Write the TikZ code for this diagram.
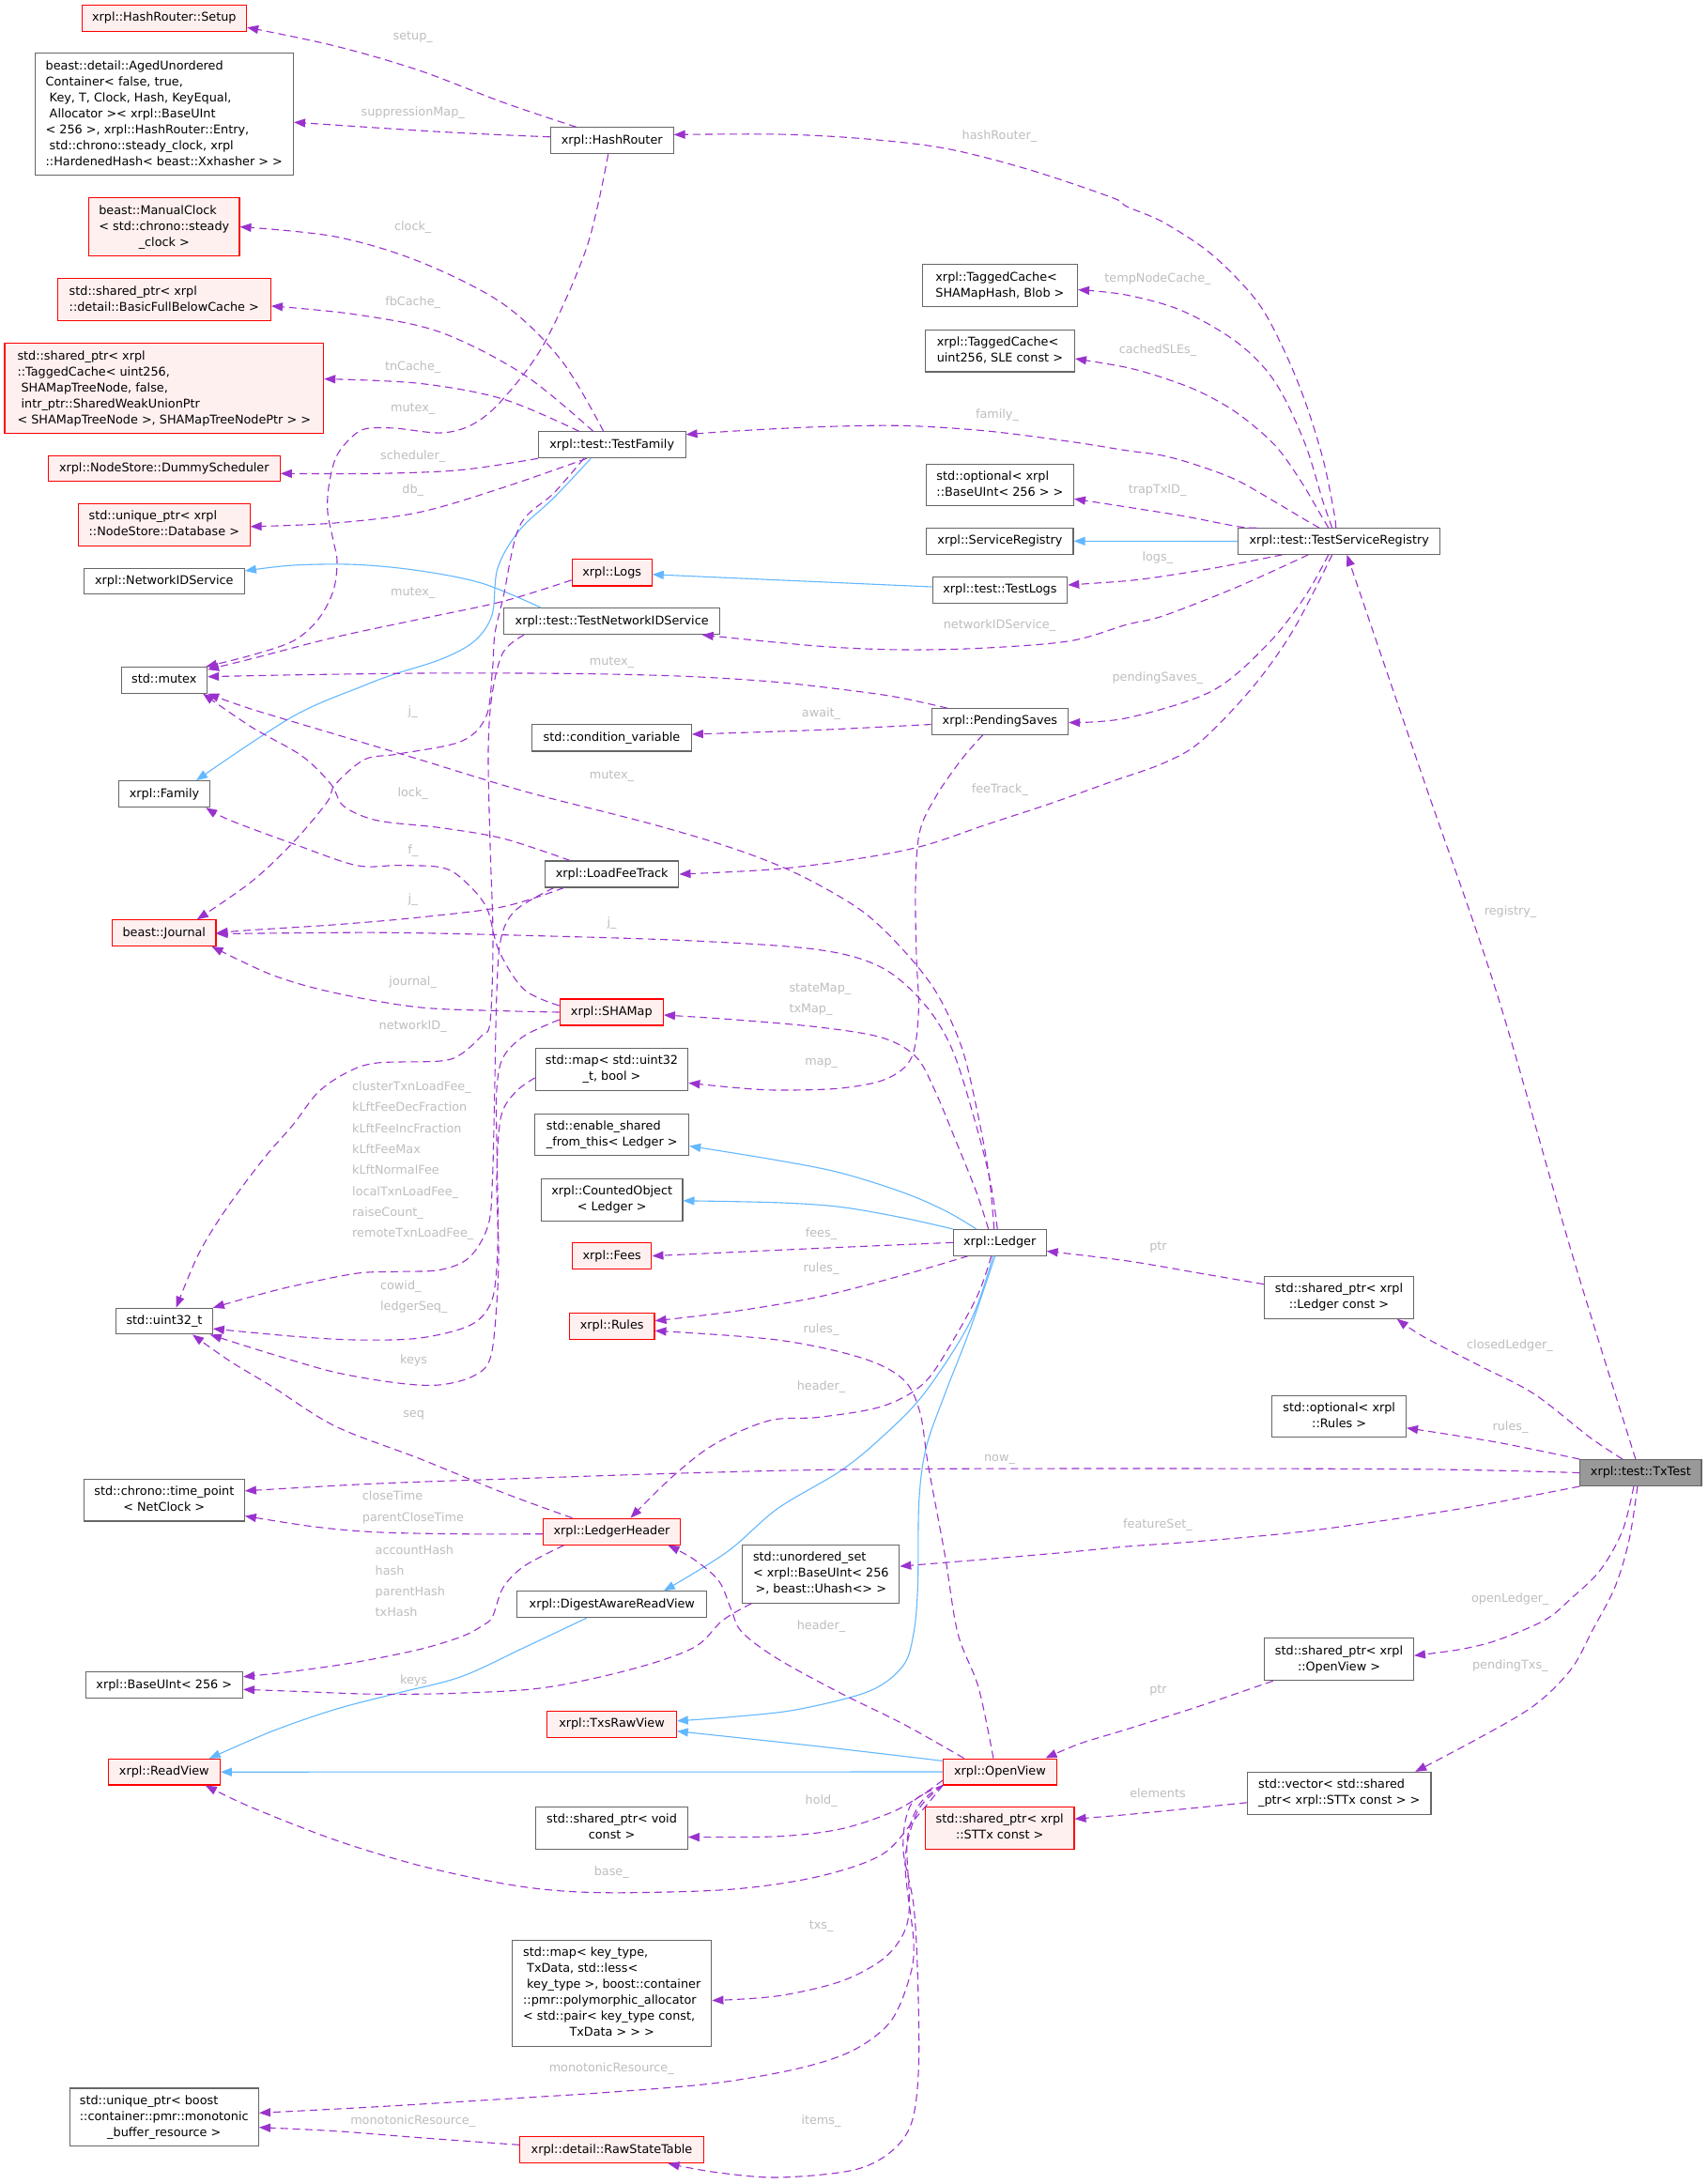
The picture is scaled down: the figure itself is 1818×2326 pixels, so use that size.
\documentclass[tikz,border=0pt]{standalone}
\usepackage{fontspec}
\setmainfont{DejaVu Sans}
\usetikzlibrary{arrows.meta}
\definecolor{purp}{HTML}{9A32CD}
\definecolor{blu}{HTML}{63B8FF}
\definecolor{gbord}{HTML}{666666}
\definecolor{rbord}{HTML}{FF0000}
\definecolor{rfill}{HTML}{FFF0F0}
\definecolor{labc}{HTML}{BEBEBE}
\definecolor{selfill}{HTML}{999999}
\newcommand\lastc[1]{\multicolumn{1}{@{}c@{}}{#1}}
\newcommand\bx[1]{\begin{tabular}{@{}l@{}}#1\end{tabular}}
\newcommand\conn[2]{\draw[#1] plot[smooth, tension=0.55] coordinates {#2};}
\newcommand\elab[3]{\node[lbl] (#1) at (#2) {#3};}
\newcommand\elabw[3]{\node[lbl,anchor=west] (#1) at (#2) {#3};}
\begin{document}
\begin{tikzpicture}[x=1pt,y=-1pt, font=\fontsize{12.8}{17}\selectfont,
 box/.style={draw=gbord, fill=white, line width=1.1pt, inner xsep=0pt, inner ysep=5.3pt},
 rbox/.style={box, draw=rbord, fill=rfill},
 sbox/.style={box, fill=selfill},
 lbl/.style={text=labc, inner sep=0pt, text height=9.7pt, text depth=2.7pt},
 mem/.style={draw=purp, line width=1.1pt, dash pattern=on 8pt off 5pt, -{Triangle[length=12pt,width=9pt]}},
 inh/.style={draw=blu, line width=1.1pt, -{Triangle[length=12pt,width=9pt]}}]
\fill[white] (0,0) rectangle (1818,2326);
\useasboundingbox (0,0) rectangle (1818,2326);

% ---------- left column ----------
\node[rbox, minimum width=175.5pt, minimum height=27.8pt] (setup) at (174.8,19.2) {\bx{xrpl::HashRouter::Setup}};
\node[box, minimum width=275.4pt, minimum height=129.8pt] (aged) at (174.8,121.7) {\bx{beast::detail::AgedUnordered\\Container< false, true,\\\ Key, T, Clock, Hash, KeyEqual,\\\ Allocator >< xrpl::BaseUInt\\< 256 >, xrpl::HashRouter::Entry,\\\ std::chrono::steady\_clock, xrpl\\\lastc{::HardenedHash< beast::Xxhasher > >}}};
\node[rbox, minimum width=160.3pt, minimum height=61.7pt] (clock) at (174.8,241.6) {\bx{beast::ManualClock\\< std::chrono::steady\\\lastc{\_clock >}}};
\node[rbox, minimum width=227.2pt, minimum height=44.8pt] (fbc) at (174.8,319.3) {\bx{std::shared\_ptr< xrpl\\\lastc{::detail::BasicFullBelowCache >}}};
\node[rbox, minimum width=339.7pt, minimum height=95.5pt] (tnc) at (174.8,413.6) {\bx{std::shared\_ptr< xrpl\\::TaggedCache< uint256,\\\ SHAMapTreeNode, false,\\\ intr\_ptr::SharedWeakUnionPtr\\\lastc{< SHAMapTreeNode >, SHAMapTreeNodePtr > >}}};
\node[rbox, minimum width=246.9pt, minimum height=27.8pt] (dummy) at (174.8,499) {\bx{xrpl::NodeStore::DummyScheduler}};
\node[rbox, minimum width=182.6pt, minimum height=45.2pt] (db) at (174.8,558.8) {\bx{std::unique\_ptr< xrpl\\\lastc{::NodeStore::Database >}}};
\node[box, minimum width=171pt, minimum height=27.5pt] (nids) at (174.8,619) {\bx{xrpl::NetworkIDService}};
\node[box, minimum width=91.5pt, minimum height=27.5pt] (mutex) at (174.8,724.4) {\bx{std::mutex}};
\node[box, minimum width=97.3pt, minimum height=28pt] (family) at (175,845.7) {\bx{xrpl::Family}};
\node[rbox, minimum width=110.3pt, minimum height=27.6pt] (journal) at (174.8,993.6) {\bx{beast::Journal}};
\node[box, minimum width=102.6pt, minimum height=27.6pt] (uint32) at (175,1407.1) {\bx{std::uint32\_t}};
\node[box, minimum width=171pt, minimum height=44.4pt] (timepoint) at (174.8,1597.7) {\bx{std::chrono::time\_point\\\lastc{< NetClock >}}};
\node[box, minimum width=167.4pt, minimum height=28.2pt] (baseuint) at (174.8,1794.8) {\bx{xrpl::BaseUInt< 256 >}};
\node[rbox, minimum width=119.2pt, minimum height=27.5pt] (readview) at (174.8,1887.2) {\bx{xrpl::ReadView}};
\node[box, minimum width=201.3pt, minimum height=61.8pt] (monotonic) at (174.8,2254.9) {\bx{std::unique\_ptr< boost\\::container::pmr::monotonic\\\lastc{\_buffer\_resource >}}};

% ---------- middle column ----------
\node[box, minimum width=130.8pt, minimum height=27.9pt] (hashrouter) at (651.7,149.8) {\bx{xrpl::HashRouter}};
\node[box, minimum width=156.7pt, minimum height=27.9pt] (testfamily) at (651.7,473.8) {\bx{xrpl::test::TestFamily}};
\node[rbox, minimum width=85pt, minimum height=28.3pt] (logs) at (651.7,609.8) {\bx{xrpl::Logs}};
\node[box, minimum width=230pt, minimum height=28pt] (tnids) at (651.7,661.6) {\bx{xrpl::test::TestNetworkIDService}};
\node[box, minimum width=169.6pt, minimum height=28.4pt] (condvar) at (651.5,785.8) {\bx{std::condition\_variable}};
\node[box, minimum width=142.4pt, minimum height=28pt] (lft) at (651.7,931) {\bx{xrpl::LoadFeeTrack}};
\node[rbox, minimum width=110.2pt, minimum height=28pt] (shamap) at (651.3,1078) {\bx{xrpl::SHAMap}};
\node[box, minimum width=162.5pt, minimum height=44.2pt] (mapu32) at (651.5,1138.9) {\bx{std::map< std::uint32\\\lastc{\_t, bool >}}};
\node[box, minimum width=163.8pt, minimum height=44.4pt] (esft) at (651.7,1208.5) {\bx{std::enable\_shared\\\lastc{\_from\_this< Ledger >}}};
\node[box, minimum width=150.5pt, minimum height=44.4pt] (counted) at (651.7,1277.8) {\bx{xrpl::CountedObject\\\lastc{< Ledger >}}};
\node[rbox, minimum width=84.4pt, minimum height=27.9pt] (fees) at (651.7,1337.6) {\bx{xrpl::Fees}};
\node[rbox, minimum width=90.6pt, minimum height=27.2pt] (rules) at (651.7,1412.3) {\bx{xrpl::Rules}};
\node[rbox, minimum width=145.6pt, minimum height=28pt] (lheader) at (651.5,1631.2) {\bx{xrpl::LedgerHeader}};
\node[box, minimum width=201.9pt, minimum height=27.6pt] (darv) at (651.8,1708.7) {\bx{xrpl::DigestAwareReadView}};
\node[rbox, minimum width=137.5pt, minimum height=27.8pt] (txsraw) at (651.5,1836.3) {\bx{xrpl::TxsRawView}};
\node[box, minimum width=161.6pt, minimum height=44.5pt] (spvoid) at (651.5,1947) {\bx{std::shared\_ptr< void\\\lastc{const >}}};
\node[box, minimum width=212.3pt, minimum height=112.5pt] (mapkt) at (651.7,2123) {\bx{std::map< key\_type,\\\ TxData, std::less<\\\ key\_type >, boost::container\\::pmr::polymorphic\_allocator\\< std::pair< key\_type const,\\\lastc{TxData > > >}}};
\node[rbox, minimum width=195.7pt, minimum height=27.8pt] (rst) at (651.5,2289.7) {\bx{xrpl::detail::RawStateTable}};
\node[box, minimum width=166.9pt, minimum height=60.9pt] (unordered) at (874.3,1676.4) {\bx{std::unordered\_set\\< xrpl::BaseUInt< 256\\\lastc{>, beast::Uhash<> >}}};

% ---------- right-middle column ----------
\node[box, minimum width=165.2pt, minimum height=44.8pt] (tcshamap) at (1064.9,304.2) {\bx{xrpl::TaggedCache<\\\lastc{SHAMapHash, Blob >}}};
\node[box, minimum width=159pt, minimum height=44.4pt] (tcsle) at (1064.9,373.7) {\bx{xrpl::TaggedCache<\\\lastc{uint256, SLE const >}}};
\node[box, minimum width=157.1pt, minimum height=44.8pt] (optbase) at (1064.9,516.5) {\bx{std::optional< xrpl\\\lastc{::BaseUInt< 256 > >}}};
\node[box, minimum width=156.2pt, minimum height=27.2pt] (servreg) at (1064.9,576.3) {\bx{xrpl::ServiceRegistry}};
\node[box, minimum width=143.7pt, minimum height=27.6pt] (testlogs) at (1064.9,628.5) {\bx{xrpl::test::TestLogs}};
\node[box, minimum width=145.5pt, minimum height=27.5pt] (pending) at (1064.9,768.5) {\bx{xrpl::PendingSaves}};
\node[box, minimum width=98.7pt, minimum height=27.5pt] (ledger) at (1064.7,1323.3) {\bx{xrpl::Ledger}};
\node[rbox, minimum width=120.6pt, minimum height=27.9pt] (openview) at (1064.9,1887) {\bx{xrpl::OpenView}};
\node[rbox, minimum width=158.5pt, minimum height=44.5pt] (spsttx) at (1064.7,1947) {\bx{std::shared\_ptr< xrpl\\\lastc{::STTx const >}}};

% ---------- right column ----------
\node[box, minimum width=215.2pt, minimum height=27pt] (tsr) at (1426.2,576.5) {\bx{xrpl::test::TestServiceRegistry}};
\node[box, minimum width=158.8pt, minimum height=44.8pt] (spledger) at (1426,1381.7) {\bx{std::shared\_ptr< xrpl\\\lastc{::Ledger const >}}};
\node[box, minimum width=142.6pt, minimum height=44.7pt] (optrules) at (1426.2,1508.4) {\bx{std::optional< xrpl\\\lastc{::Rules >}}};
\node[box, minimum width=158.8pt, minimum height=44.9pt] (spov) at (1426,1767.2) {\bx{std::shared\_ptr< xrpl\\\lastc{::OpenView >}}};
\node[box, minimum width=195.5pt, minimum height=44.8pt] (vector) at (1426.2,1909.8) {\bx{std::vector< std::shared\\\lastc{\_ptr< xrpl::STTx const > >}}};
\node[sbox, minimum width=129.2pt, minimum height=27.9pt] (txtest) at (1747.4,1568.5) {\bx{xrpl::test::TxTest}};

% ---------- inheritance edges ----------
\conn{inh}{([xshift=-22.5pt]testfamily.south) (590,530) (553,565) (530,605) (524,655) (505,683) (470,702) (420,718) (388,730) (312,763) ([xshift=34pt]family.north)}
\conn{inh}{([yshift=3.5pt]testlogs.west) ([yshift=-2pt]logs.east)}
\conn{inh}{([xshift=-75.8pt]tnids.north) (513.4,621.2) (446.4,607.8) (379.4,601.3) (312.5,602) ([yshift=11pt]nids.east)}
\conn{inh}{(tsr.west) (servreg.east)}
\conn{inh}{([xshift=-24.8pt]ledger.north) (1006.4,1289.3) (961.8,1270) (894.8,1249) (827.8,1235.7) ([yshift=-12pt]esft.east)}
\conn{inh}{(ledger.north west) (961.8,1297) (894.8,1285.4) (827.8,1280.8) ([yshift=-1pt]counted.east)}
\conn{inh}{([xshift=-7pt]ledger.south) (1033.2,1407.9) (984,1484.4) (939.4,1530.4) (894.8,1566.7) (827.8,1606.9) (774.3,1652.8) ([xshift=55pt]darv.north)}
\conn{inh}{([xshift=-5pt]ledger.south) (1033.2,1415.5) (1006.4,1484.4) (986.3,1541.8) (978.7,1599.2) (977.4,1690) (973,1739.3) (961.8,1774) (926,1801) (850,1820.5) (783.2,1828.2) ([yshift=3.5pt]txsraw.east)}
\conn{inh}{([yshift=11.6pt]openview.west) (872.5,1860) ([yshift=-7.4pt]txsraw.east)}
\conn{inh}{(openview.west) (readview.east)}
\conn{inh}{([xshift=-26.8pt]darv.south) (558,1754.8) (491,1785.7) (424,1803) (357,1820.5) (290,1843.7) ([xshift=48pt]readview.north)}

% ---------- member edges ----------
\conn{mem}{([xshift=-38pt]hashrouter.north) (535.7,109) (446.4,75) (357,49) ([yshift=-10pt]setup.east)}
\conn{mem}{([yshift=4pt]hashrouter.west) (520,143) (446,139) ([yshift=-8.5pt]aged.east)}
\conn{mem}{([xshift=-4pt]hashrouter.south) (625,263) (580,365) (535.7,425) (504,451.6) (470,461) (420,456) (388,457) (370,470) (357,489) (350,519) (349,546) (355,576) (359,598) (355,629) (339,659.5) (312.5,682.5) (267.8,697.8) ([xshift=-2pt]mutex.north east)}
\conn{mem}{([xshift=-9pt]testfamily.north) (598,384) (535.7,323.6) (446.4,278.5) (357,252) (clock.east)}
\conn{mem}{([xshift=-20pt]testfamily.north) (558,399) (468.7,353.7) (379.4,335) ([yshift=-6.6pt]fbc.east)}
\conn{mem}{([xshift=-35pt]testfamily.north) (535.7,425) (446.4,408.3) ([yshift=10pt]tnc.east)}
\conn{mem}{(testfamily.south west) (491,500.5) (401.8,504.3) ([yshift=-5.3pt]dummy.east)}
\conn{mem}{([xshift=-27pt]testfamily.south) (535.7,519.3) (446.4,545.6) (357,557) ([yshift=-2pt]db.east)}
\conn{mem}{([xshift=-30pt]testfamily.south) (590,525) (553.5,560) (536,636) (527,675) (524.5,713) (517.8,762.8) (491,789.6) (424,803) (388.4,808.8) (357,835.5) (348,854.7) (312.5,896.8) (267.8,939) ([xshift=35pt]journal.north)}
\conn{mem}{([yshift=-8pt]logs.west) (535.7,640.4) (446.4,659.5) (357,678.6) (267.8,701.6) ([yshift=-3pt]mutex.north east)}
\conn{mem}{([xshift=-93.7pt]tnids.south) (535.7,695) (524,740) (520,800) (522,900) (525,1000) (522,1088) (513,1103) (491,1122.6) (468.7,1130) (401.8,1132) (370.5,1141.7) (339,1163) (312.5,1197.4) (285.7,1228) (259,1262.5) (232,1300.7) (209.8,1339) ([xshift=12.5pt]uint32.north)}
\conn{mem}{([xshift=-56pt]pending.north) (961.8,743.7) (917,736.8) (827.8,726.5) (738.6,720.7) (649.3,718) (560,717) (446.4,717) (312.5,718.8) ([yshift=3.7pt]mutex.east)}
\conn{mem}{([yshift=-3pt]pending.west) (872,777.4) ([yshift=3.8pt]condvar.east)}
\conn{mem}{([xshift=-18.3pt]pending.south) (1024,808.8) (997.5,847) (979.6,885.3) (975,942.7) (976,1019) (978.3,1076.6) (970.7,1126.4) (944,1149) (894.8,1159) (827.8,1161) (783.2,1158.4) ([yshift=-14.5pt]mapu32.east)}
\conn{mem}{([xshift=-3.5pt]tsr.north) (1420.7,545.6) (1409,489) (1389,425) (1365.5,368.8) (1338,320) (1290.6,271) (1239.4,237) (1200,220) (1185,210.7) (1095.7,180.6) (1006.4,158) (917,147.5) (827.8,143) ([yshift=6.4pt]hashrouter.east)}
\conn{mem}{([xshift=-7.5pt]tsr.north) (1409,534.3) (1389,470.4) (1357.6,406.4) (1318,365) (1259,331) (1200,314.2) ([yshift=-4.4pt]tcshamap.east)}
\conn{mem}{([xshift=-11.4pt]tsr.north) (1405,545.6) (1385,511.8) (1357.6,474) (1318,440.3) (1278.8,417.7) (1239.4,402.6) (1200,391.4) ([yshift=-8.3pt]tcsle.east)}
\conn{mem}{([xshift=-21.2pt]tsr.north) (1389,553) (1357.6,534.3) (1318,511.8) (1278.8,496.7) (1239.4,485.4) (1200,479.8) (1140.3,470.4) (1051,459) (961.8,453.4) (872.5,454.6) (783.2,459) ([yshift=11pt]testfamily.east)}
\conn{mem}{([xshift=-88pt]tsr.north) (1318,560.7) (1259,549.4) (1200,540) ([yshift=-14.8pt]optbase.east)}
\conn{mem}{([xshift=-60.7pt]tsr.south) (1298.5,604) (1239.4,613.6) (1200,618.6) ([yshift=5.5pt]testlogs.east)}
\conn{mem}{([xshift=-33pt]tsr.south) (1318,625) (1239.4,655.7) (1200,665.2) (1140.3,682.5) (1051,690) (961.8,692) (872.5,688.2) ([xshift=96pt]tnids.south)}
\conn{mem}{([xshift=-11.4pt]tsr.south) (1389,636.5) (1349.8,686.3) (1290.6,736) (1200,764.7) ([yshift=-1pt]pending.east)}
\conn{mem}{([xshift=-7.5pt]tsr.south) (1377.3,671) (1334,732) (1278.8,789.6) (1239.4,812.6) (1185,832) (1118,856) (1051,878) (984,900.6) (917,914) (827.8,925.5) (lft.east)}
\conn{mem}{([xshift=-2.5pt]ledger.north) (1055,1260) (1040,1200) (1015,1120) (985,1070) (939.4,1030.7) (872.5,1011.6) (738.6,1002) (560,996.3) (401.8,993.2) ([yshift=-1pt]journal.east)}
\conn{mem}{([xshift=-51.3pt]lft.south) (535.7,965.7) (446.4,977) (357,984.8) (267.8,990.5) (journal.east)}
\conn{mem}{([xshift=-6pt]ledger.north) (1053,1250) (1040,1180) (1024,1115) (997.5,1057.5) (961.8,1011.6) (917,969.5) (850.2,931.2) (783.2,904.4) (694,877.6) (560,843.2) (446.4,808.8) (357,782) (267.8,755.2) (mutex.south east)}
\conn{mem}{([xshift=-44.7pt]lft.north) (535.7,893) (468.7,881.5) (401.8,873.8) (366,858.5) (352.7,835.5) (321.4,805) (267.8,774.3) ([xshift=-5pt]mutex.south east)}
\conn{mem}{([xshift=-12pt]ledger.north) (1040,1270) (1020,1220) (995,1160) (975,1125) (939,1105) (872.5,1094) (783,1086) ([yshift=-3pt]shamap.east)}
\conn{mem}{(ledger.west) (872.5,1329.4) (fees.east)}
\conn{mem}{([xshift=-33.7pt]ledger.south) (961.8,1358) (872.5,1381) (783.2,1396.4) ([yshift=5.6pt]rules.east)}
\conn{mem}{([xshift=-9pt]ledger.south) (1042.1,1377.3) (1015.3,1427) (984,1473) (939.4,1497.8) (872.5,1509.3) (819,1513) (761,1538) (716.3,1572.5) ([xshift=20pt]lheader.north)}
\conn{mem}{(openview.south west) (975,1936.4) (939.4,1975) (872.5,1998.3) (783.2,2011.8) (671.6,2015.7) (600,2014) (535.7,2006) (446.4,1986.7) (357,1959.6) (267.8,1924.8) ([xshift=44pt]readview.south)}
\conn{mem}{([yshift=-9pt]openview.west) (979.6,1913.3) (948.4,1930.6) (894.8,1948) (827.8,1955.8) ([yshift=-9.5pt]spvoid.east)}
\conn{mem}{(openview.south west) (979.6,1921) (966.2,1959.6) (968.5,2029) (961.8,2060) (939.4,2087.2) (894.8,2110.4) (827.8,2125.8) ([yshift=-7.5pt]mapkt.east)}
\conn{mem}{(openview.south west) (977.4,1928.7) (964,1982.8) (973,2067.9) (968.5,2106.5) (948.4,2152.9) (908.2,2183.8) (850,2203) (761,2218.6) (649.3,2228.2) (560,2234) (401.8,2243.7) ([yshift=4.6pt]monotonic.east)}
\conn{mem}{(openview.south west) (970.7,1921) (961.8,1967.4) (973,2029) (977.4,2106.5) (978.3,2203) (970.7,2261) (948.4,2292) (908.2,2311.3) (827.8,2319) (760.9,2313.3) ([xshift=60pt]rst.south)}
\conn{mem}{([yshift=5.4pt]rst.west) (446.4,2276.6) (357,2269.6) ([yshift=-10.8pt]monotonic.east)}
\conn{mem}{([xshift=-38.4pt]openview.north) (961.8,1836) (894.8,1803) (827.8,1766.4) (790,1738) (778.7,1714) (765.3,1683.4) (738.6,1660.5) ([xshift=60pt]lheader.south)}
\conn{mem}{([xshift=-7pt]openview.north) (1042.1,1797.3) (1020,1739.3) (1006.4,1656.6) (988.6,1561) (979.6,1503.6) (961.8,1469) (917,1446) (827.8,1427) ([yshift=-5pt]rules.east)}
\conn{mem}{([xshift=-70.3pt]spov.south) (1278.8,1816.6) (1200,1841.7) (1150,1857) ([xshift=48.6pt]openview.north)}
\conn{mem}{([yshift=-10pt]vector.west) (1259,1926.8) (1200,1932.6) ([yshift=9.8pt]spsttx.east)}
\conn{mem}{([yshift=14pt]spledger.west) (1278.8,1356.2) (1200,1342.8) ([yshift=-9.2pt]ledger.east)}
\conn{mem}{([xshift=-5.5pt]txtest.north) (1673,1331.4) (1594,1057.5) (1515.3,828) ([xshift=8.3pt]tsr.south)}
\conn{mem}{([xshift=-19.4pt]txtest.north) (1692.6,1530.4) (1633.5,1484.4) (1574.4,1453.8) (1515.3,1423.2) ([xshift=61.7pt]spledger.south)}
\conn{mem}{(txtest.north west) (1594,1536) ([yshift=-12.4pt]optrules.east)}
\conn{mem}{(txtest.west) (1515.3,1564.8) (1200,1564) (917,1564.8) (738.6,1568.6) (560,1574.4) (401.8,1580) ([yshift=9.9pt]timepoint.east)}
\conn{mem}{(txtest.south west) (1554.7,1606.9) (1397,1630) (1278.8,1641.3) (1200,1647) (1140.3,1652.8) (1051,1660.5) ([yshift=8.3pt]unordered.east)}
\conn{mem}{([xshift=-7.5pt]txtest.south) (1728,1630) (1704.4,1672) (1673,1702.6) (1645,1725.5) (1594,1747) (1554.7,1756.7) ([yshift=4pt]spov.east)}
\conn{mem}{([xshift=-3.5pt]txtest.south) (1735,1640) (1720,1690) (1696.6,1735) (1673,1778) (1633.5,1816.6) (1574.4,1851.4) ([xshift=81pt]vector.north)}
\conn{mem}{([xshift=-42pt]lheader.north) (535.7,1589.7) (446.4,1553.3) (357,1518.9) (290,1476.8) (245.5,1450) ([xshift=30pt]uint32.south)}
\conn{mem}{([xshift=-62pt]lft.south) (549,969.5) (533.4,1000) (529,1057.5) (526.8,1160) (524.5,1254.8) (520,1304.6) (500,1339) (468.7,1352.4) (424,1354.3) (379.4,1356.2) (312.5,1369.6) (267.8,1381) (uint32.north east)}
\conn{mem}{([yshift=-8pt]shamap.west) (558,1103.4) (535.7,1126.4) (529,1160) (529,1216.5) (530.3,1293) (529,1350.5) (522.3,1388.8) (500,1411.7) (446.4,1425.1) (379.4,1427) (312.5,1423.2) ([yshift=-8pt]uint32.east)}
\conn{mem}{([yshift=-9pt]mapu32.west) (549,1163) (533.4,1189.8) (529,1254.8) (531,1331.4) (529,1388.8) (522.3,1446) (504.5,1465.3) (468.7,1474.9) (424,1473) (357,1461.5) (290,1442.3) ([xshift=-3pt]uint32.south east)}
\conn{mem}{([yshift=7pt]shamap.west) (558,1053.7) (531,1011.6) (517.8,965.7) (491,935) (468.7,923.6) (424,921.6) (379.4,921.6) (312.5,898.7) (245.5,873.8) ([xshift=-5pt]family.south east)}
\conn{mem}{(shamap.west) (535.7,1076.6) (446.4,1072.8) (357,1057.5) (290,1038.4) ([xshift=-5pt]journal.south east)}
\conn{mem}{([xshift=10pt]unordered.south west) (769.8,1725.5) (738.6,1754.8) (671.6,1778) (580.3,1797.3) (491,1803.1) (401.8,1804.3) (312.5,1801.2) ([yshift=-4.5pt]baseuint.east)}
\conn{mem}{([xshift=-51pt]lheader.south) (558,1668.1) (535.7,1691) (524.5,1721.7) (513.4,1731.6) (491,1743.2) (446.4,1756.7) (379.4,1770.2) (312.5,1780) ([yshift=9pt]baseuint.east)}
\conn{mem}{([yshift=-2.5pt]lheader.west) (491,1633.7) (401.8,1631.8) (334.8,1626) ([yshift=-16.8pt]timepoint.east)}

% ---------- labels ----------
\elab{l1}{439.7,38.8}{setup\_}
\elab{l2}{439.7,120.4}{suppressionMap\_}
\elab{l3}{439.7,242}{clock\_}
\elab{l4}{439.7,322}{fbCache\_}
\elab{l5}{439.7,391.4}{tnCache\_}
\elab{l6}{439.7,435.4}{mutex\_}
\elab{l7}{439.7,486.2}{scheduler\_}
\elab{l8}{439.7,522.3}{db\_}
\elab{l9}{439.7,630.8}{mutex\_}
\elab{l10}{439.7,757.9}{j\_}
\elab{l11}{439.7,845}{lock\_}
\elab{l12}{439.7,906.3}{f\_}
\elab{l13}{439.7,958}{j\_}
\elab{l14}{439.7,1046}{journal\_}
\elab{l15}{439.7,1092.7}{networkID\_}
\elabw{l16a}{375,1158}{clusterTxnLoadFee\_}
\elabw{l16b}{375,1180.3}{kLftFeeDecFraction}
\elabw{l16c}{375,1202.6}{kLftFeeIncFraction}
\elabw{l16d}{375,1224.9}{kLftFeeMax}
\elabw{l16e}{375,1247.2}{kLftNormalFee}
\elabw{l16f}{375,1269.5}{localTxnLoadFee\_}
\elabw{l16g}{375,1291.8}{raiseCount\_}
\elabw{l16h}{375,1314.1}{remoteTxnLoadFee\_}
\elabw{l17a}{404.9,1370}{cowid\_}
\elabw{l17b}{404.9,1392.2}{ledgerSeq\_}
\elab{l18}{440.6,1448.5}{keys}
\elab{l19}{440.6,1505.5}{seq}
\elabw{l20a}{385.7,1594.3}{closeTime}
\elabw{l20b}{385.7,1616.5}{parentCloseTime}
\elabw{l21a}{399.5,1651.7}{accountHash}
\elabw{l21b}{399.5,1673.9}{hash}
\elabw{l21c}{399.5,1696}{parentHash}
\elabw{l21d}{399.5,1718.3}{txHash}
\elab{l22}{440.6,1789.6}{keys}
\elab{l23}{439.7,2259}{monotonicResource\_}
\elab{l24}{1064.4,144.9}{hashRouter\_}
\elab{l25}{1233,297.3}{tempNodeCache\_}
\elab{l26}{1233,372.5}{cachedSLEs\_}
\elab{l27}{1062,442}{family\_}
\elab{l28}{1232.6,521.5}{trapTxID\_}
\elab{l29}{1232.8,594.4}{logs\_}
\elab{l30}{1064.5,666.4}{networkIDService\_}
\elab{l31}{1232.8,722}{pendingSaves\_}
\elab{l32}{1064.9,841.3}{feeTrack\_}
\elab{l33}{651.5,704.7}{mutex\_}
\elab{l34}{874.5,760}{await\_}
\elab{l35}{651.5,825.6}{mutex\_}
\elab{l36}{651.5,983}{j\_}
\elabw{l37a}{840.3,1053}{stateMap\_}
\elabw{l37b}{840.3,1075.3}{txMap\_}
\elab{l38}{874.7,1131}{map\_}
\elab{l39}{874.5,1314}{fees\_}
\elab{l40}{874.5,1350.5}{rules\_}
\elab{l41}{874.5,1416.3}{rules\_}
\elab{l42}{874.5,1476.8}{header\_}
\elab{l43}{1233.5,1327.5}{ptr}
\elab{l44}{1064.5,1552.5}{now\_}
\elab{l45}{1233,1624}{featureSet\_}
\elab{l46}{874.5,1731.5}{header\_}
\elab{l47}{1608,1432.8}{closedLedger\_}
\elab{l48}{1608.5,1519.6}{rules\_}
\elab{l49}{1608.5,971.4}{registry\_}
\elab{l50}{1608.3,1702.6}{openLedger\_}
\elab{l51}{1608.3,1774}{pendingTxs\_}
\elab{l52}{1233.5,1800}{ptr}
\elab{l53}{1233,1911.3}{elements}
\elab{l54}{874.7,1917.9}{hold\_}
\elab{l55}{651.3,1994.4}{base\_}
\elab{l56}{874.7,2050.5}{txs\_}
\elab{l57}{651.2,2203}{monotonicResource\_}
\elab{l58}{874.5,2259}{items\_}
\end{tikzpicture}
\end{document}
